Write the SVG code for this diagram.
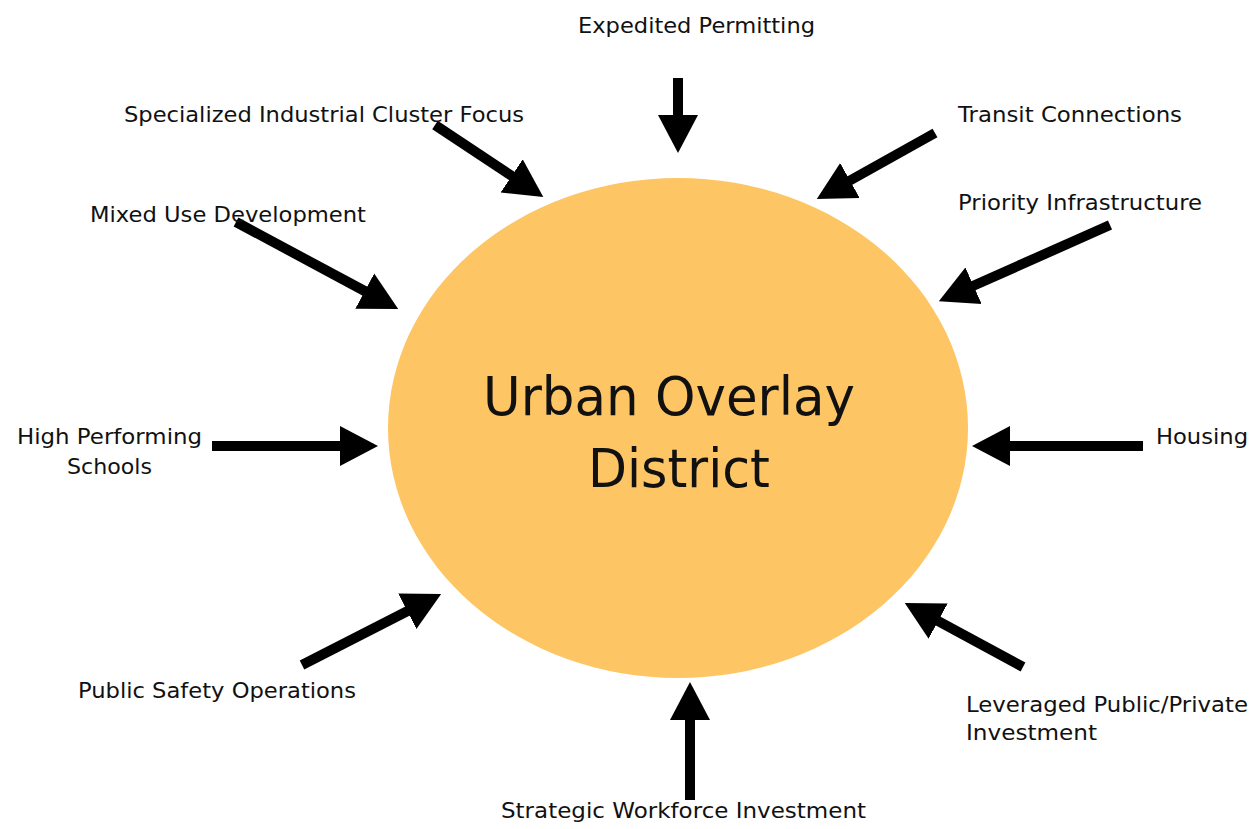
<svg xmlns="http://www.w3.org/2000/svg" width="1256" height="829" viewBox="0 0 1256 829">
<style>
.lbl{font-family:"DejaVu Sans","Liberation Sans",sans-serif;font-size:22px;fill:#111}
.big{font-family:"DejaVu Sans","Liberation Sans",sans-serif;font-size:54px;fill:#111;text-anchor:middle}
.arr{stroke:#000;stroke-width:10;fill:none;marker-end:url(#ah)}
</style>
<defs>
<marker id="ah" markerUnits="userSpaceOnUse" markerWidth="40" markerHeight="44" viewBox="0 -22 40 44" refX="2" refY="0" orient="auto">
<path d="M0,-20 L38,0 L0,20 z" fill="#000"/>
</marker>
</defs>
<rect width="1256" height="829" fill="#fff"/>
<g id="center">
<ellipse cx="678" cy="428" rx="290" ry="250" fill="#FDC564"/>
<text class="big" x="669" y="415" textLength="372" lengthAdjust="spacingAndGlyphs">Urban Overlay</text>
<text class="big" x="679" y="487" textLength="182" lengthAdjust="spacingAndGlyphs">District</text>
</g>
<g id="connectors">
<line class="arr" x1="678" y1="78" x2="678" y2="117"/>
<line class="arr" x1="435" y1="125" x2="513.3" y2="177"/>
<line class="arr" x1="935" y1="133" x2="848.2" y2="181.5"/>
<line class="arr" x1="236" y1="222" x2="366.5" y2="292"/>
<line class="arr" x1="1110" y1="225" x2="971.7" y2="286.5"/>
<line class="arr" x1="212" y1="446" x2="342" y2="446"/>
<line class="arr" x1="1143" y1="446" x2="1008" y2="446"/>
<line class="arr" x1="302" y1="665" x2="409.1" y2="610.3"/>
<line class="arr" x1="1023" y1="667" x2="936.4" y2="620.1"/>
<line class="arr" x1="690" y1="800" x2="690" y2="718"/>
</g>
<g id="n-expedited"><text class="lbl" x="578" y="33" textLength="237" lengthAdjust="spacingAndGlyphs">Expedited Permitting</text></g>
<g id="n-specialized"><text class="lbl" x="124" y="122" textLength="400" lengthAdjust="spacingAndGlyphs">Specialized Industrial Cluster Focus</text></g>
<g id="n-transit"><text class="lbl" x="958" y="122" textLength="224" lengthAdjust="spacingAndGlyphs">Transit Connections</text></g>
<g id="n-mixed"><text class="lbl" x="90" y="222" textLength="276" lengthAdjust="spacingAndGlyphs">Mixed Use Development</text></g>
<g id="n-priority"><text class="lbl" x="958" y="210" textLength="244" lengthAdjust="spacingAndGlyphs">Priority Infrastructure</text></g>
<g id="n-schools"><text class="lbl" x="17" y="444" textLength="185" lengthAdjust="spacingAndGlyphs">High Performing</text><text class="lbl" x="67" y="474" textLength="85" lengthAdjust="spacingAndGlyphs">Schools</text></g>
<g id="n-housing"><text class="lbl" x="1156" y="444" textLength="92" lengthAdjust="spacingAndGlyphs">Housing</text></g>
<g id="n-safety"><text class="lbl" x="78" y="698" textLength="278" lengthAdjust="spacingAndGlyphs">Public Safety Operations</text></g>
<g id="n-leveraged"><text class="lbl" x="966" y="712" textLength="282" lengthAdjust="spacingAndGlyphs">Leveraged Public/Private</text><text class="lbl" x="966" y="740" textLength="131" lengthAdjust="spacingAndGlyphs">Investment</text></g>
<g id="n-workforce"><text class="lbl" x="501" y="818" textLength="365" lengthAdjust="spacingAndGlyphs">Strategic Workforce Investment</text></g>
</svg>
